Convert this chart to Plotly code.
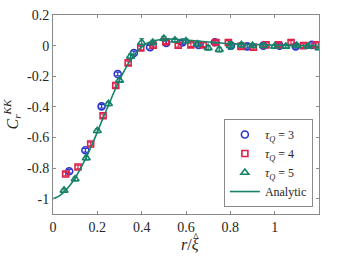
import plotly.graph_objects as go

# tau_Q = 3 (blue circles)
r3 = [0.073, 0.146, 0.219, 0.292, 0.365, 0.438, 0.511, 0.584, 0.657, 0.730, 0.803, 0.876, 0.949, 1.022, 1.095, 1.168]
c3 = [-0.821, -0.684, -0.397, -0.185, -0.048, -0.010, 0.018, 0.020, 0.005, 0.022, 0.000, -0.005, 0.000, 0.000, -0.005, 0.005]
e3 = [0.012] * 16

# tau_Q = 4 (red squares)
r4 = [0.057, 0.113, 0.170, 0.226, 0.283, 0.339, 0.396, 0.452, 0.509, 0.565, 0.622, 0.678, 0.735, 0.791, 0.848, 0.904, 0.961, 1.017, 1.074, 1.130, 1.187]
c4 = [-0.839, -0.793, -0.643, -0.458, -0.261, -0.113, -0.015, 0.002, 0.025, 0.002, 0.005, 0.005, 0.020, 0.020, -0.005, -0.010, 0.005, 0.005, 0.020, 0.000, 0.005]
e4 = [0.012] * 21

# tau_Q = 5 (green triangles)
r5 = [0.05, 0.10, 0.15, 0.20, 0.25, 0.30, 0.35, 0.40, 0.45, 0.50, 0.55, 0.60, 0.65, 0.70, 0.75, 0.80, 0.85, 0.90, 0.95, 1.00, 1.05, 1.10, 1.15, 1.20]
c5 = [-0.946, -0.871, -0.734, -0.556, -0.380, -0.227, -0.070, 0.020, 0.020, 0.046, 0.035, 0.030, 0.010, -0.015, -0.026, 0.000, 0.005, 0.000, 0.000, -0.005, -0.005, 0.000, -0.005, -0.015]
e5 = [0.012, 0.012, 0.012, 0.012, 0.012, 0.012, 0.015, 0.025, 0.015, 0.015, 0.012, 0.012, 0.012, 0.015, 0.015, 0.025, 0.015, 0.012, 0.012, 0.012, 0.012, 0.012, 0.012, 0.012]

# Analytic curve
ra = [0, 0.025, 0.05, 0.075, 0.1, 0.125, 0.15, 0.175, 0.2, 0.225, 0.25, 0.275, 0.3, 0.325, 0.35, 0.375, 0.4, 0.425, 0.45, 0.5, 0.55, 0.6, 0.65, 0.7, 0.75, 0.8, 0.9, 1.0, 1.1, 1.2]
ca = [-1, -0.985, -0.955, -0.915, -0.865, -0.80, -0.73, -0.65, -0.565, -0.475, -0.39, -0.305, -0.225, -0.155, -0.095, -0.045, -0.01, 0.015, 0.03, 0.042, 0.042, 0.037, 0.03, 0.024, 0.018, 0.013, 0.007, 0.003, 0.001, 0.0]

xticks = [0, 0.2, 0.4, 0.6, 0.8, 1]
xticktext = ["0", "0.2", "0.4", "0.6", "0.8", "1"]
yticks = [0.2, 0, -0.2, -0.4, -0.6, -0.8, -1]
yticktext = ["0.2", "0", "-0.2", "-0.4", "-0.6", "-0.8", "-1"]

BLUE = "#2b35cc"
RED = "#e0204a"
GREEN = "#16826a"
SERIF = "Liberation Serif, Times New Roman, serif"

fig = go.Figure()

def add_series(x, y, e, color, symbol, name, size):
    fig.add_trace(go.Scatter(
        x=x, y=y, mode="markers", name=name,
        marker=dict(symbol=symbol, size=size, color=color,
                    line=dict(color=color, width=1.6)),
        error_y=dict(type="data", array=e, visible=True, color=color,
                     thickness=1.2, width=2.5),
    ))

add_series(r3, c3, e3, BLUE, "circle-open", "<i>τ<sub>Q</sub></i> = 3", 7)
add_series(r4, c4, e4, RED, "square-open", "<i>τ<sub>Q</sub></i> = 4", 6)
add_series(r5, c5, e5, GREEN, "triangle-up-open", "<i>τ<sub>Q</sub></i> = 5", 7)

fig.add_trace(go.Scatter(x=ra, y=ca, mode="lines", name="Analytic",
                         line=dict(color=GREEN, width=1.6, shape="spline")))

axis_common = dict(showgrid=False, zeroline=False, showline=True,
                   linecolor="#8a8a8a", linewidth=1, ticks="inside",
                   ticklen=3, tickcolor="#8a8a8a", mirror="allticks",
                   automargin=False, ticklabeloverflow="allow",
                   tickfont=dict(family=SERIF, size=14, color="#262626"))

fig.update_layout(
    width=355, height=267,
    margin=dict(l=53, r=36, t=15, b=53),
    paper_bgcolor="white", plot_bgcolor="white",
    font=dict(family=SERIF, size=14, color="#262626"),
    showlegend=True,
    legend=dict(x=0.977, y=0.035, xanchor="right", yanchor="bottom",
                bgcolor="white", bordercolor="#8a8a8a", borderwidth=1,
                font=dict(family=SERIF, size=12, color="#262626"),
                tracegroupgap=0, itemwidth=30),
    xaxis=dict(range=[0, 1.2], tickvals=xticks, ticktext=xticktext,
               **axis_common),
    yaxis=dict(range=[-1.1, 0.2], tickvals=yticks, ticktext=yticktext,
               title=dict(text="<i>C</i><sub><i>r</i></sub><sup><i>KK</i></sup>", standoff=4,
                          font=dict(family=SERIF, size=16)),
               **axis_common),
    annotations=[
        dict(text="<i>r</i>/<i>ξ</i>", xref="paper", yref="paper", x=0.515, y=-0.155,
             xanchor="center", yanchor="middle", showarrow=False,
             font=dict(family=SERIF, size=16, color="#262626")),
        dict(text="^", xref="paper", yref="paper", x=0.538, y=-0.115,
             xanchor="center", yanchor="middle", showarrow=False,
             font=dict(family=SERIF, size=12, color="#262626")),
    ],
)

fig.write_html("out.html", config={"displayModeBar": False},
               post_script="document.body.style.margin='0';document.body.style.overflow='hidden';")
